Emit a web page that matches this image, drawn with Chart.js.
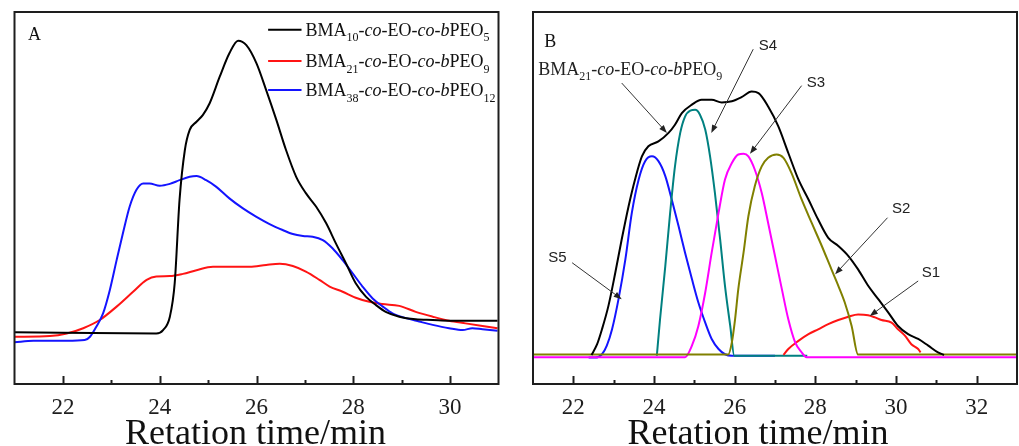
<!DOCTYPE html>
<html>
<head>
<meta charset="utf-8">
<script src="https://cdn.jsdelivr.net/npm/chart.js@4.4.1/dist/chart.umd.min.js"></script>
<style>
    body { margin: 0; background: #fff; }
    .panel { position: absolute; top: 0; height: 446px; }
</style>
</head>
<body>
<div class="panel" style="left:0;width:510px"><canvas id="chartA"></canvas></div>
<div class="panel" style="left:505px;width:514px"><canvas id="chartB"></canvas></div>
<script>
const ticksA = [22, 24, 26, 28, 30];
const ticksB = [22, 24, 26, 28, 30, 32];

// Panel A: GPC traces of the three copolymers
const bma10Time = [21.0, 23.93, 24.07, 24.21, 24.31, 24.41, 24.52, 24.62, 24.76, 24.89, 25.03, 25.24, 25.44, 25.62, 25.79, 26.0, 26.2, 26.41, 26.61, 26.82, 27.02, 27.23, 27.44, 27.64, 27.85, 28.05, 28.26, 28.47, 28.67, 28.95, 29.29, 29.64, 29.98, 30.98];
const bma10Signal = [13.9, 13.6, 14.5, 18.1, 27.1, 49.5, 62.9, 68.3, 70.5, 72.3, 75.4, 82.6, 88.9, 92.3, 91.1, 86.2, 79.0, 71.0, 62.9, 55.7, 51.3, 47.7, 43.2, 37.8, 32.4, 27.1, 23.5, 21.2, 19.4, 18.1, 17.4, 17.2, 17.0, 17.0];

const bma21Time = [21.0, 21.73, 22.08, 22.42, 22.76, 23.11, 23.45, 23.73, 23.93, 24.21, 24.48, 24.76, 25.1, 25.51, 25.86, 26.2, 26.48, 26.75, 27.02, 27.3, 27.51, 27.78, 28.05, 28.33, 28.6, 28.95, 29.29, 29.64, 29.98, 30.32, 30.67, 30.98];
const bma21Signal = [12.7, 12.9, 13.6, 15.0, 17.2, 20.8, 24.8, 28.0, 28.9, 29.0, 29.6, 30.6, 31.5, 31.5, 31.5, 32.0, 32.3, 31.7, 30.2, 28.0, 26.2, 24.8, 23.2, 22.1, 21.5, 21.0, 19.4, 18.1, 17.0, 16.3, 15.6, 15.0];

const bma38Time = [21.0, 21.39, 22.08, 22.45, 22.56, 22.69, 22.83, 22.97, 23.11, 23.24, 23.38, 23.52, 23.66, 23.79, 24.0, 24.21, 24.41, 24.62, 24.76, 24.96, 25.17, 25.44, 25.72, 25.99, 26.27, 26.54, 26.75, 26.96, 27.16, 27.37, 27.57, 27.78, 27.99, 28.19, 28.4, 28.61, 28.81, 29.09, 29.36, 29.64, 29.98, 30.26, 30.46, 30.67, 30.98];
const bma38Signal = [11.2, 11.6, 11.6, 11.8, 12.7, 15.4, 19.0, 25.3, 33.3, 40.5, 47.7, 52.2, 53.9, 53.9, 53.3, 53.8, 54.8, 55.7, 55.9, 54.8, 53.0, 49.9, 47.2, 45.0, 43.0, 41.4, 40.3, 39.8, 39.6, 38.7, 36.5, 33.3, 29.7, 26.2, 23.0, 20.8, 19.0, 17.7, 16.8, 15.9, 15.0, 14.5, 15.0, 14.7, 14.3];

// Panel B: BMA21 trace and its five fitted components
const envelopeTime = [22.45, 22.59, 22.71, 22.87, 23.04, 23.2, 23.37, 23.53, 23.7, 23.86, 24.11, 24.36, 24.52, 24.69, 24.94, 25.18, 25.43, 25.68, 25.93, 26.17, 26.42, 26.59, 26.83, 27.08, 27.33, 27.58, 27.83, 28.07, 28.32, 28.57, 28.82, 29.06, 29.31, 29.56, 29.81, 30.05, 30.3, 30.55, 30.8, 31.04, 31.19];
const envelopeSignal = [7.8, 10.7, 14.7, 21.0, 29.9, 38.9, 47.8, 55.0, 61.2, 63.9, 65.2, 67.5, 69.7, 72.8, 75.1, 76.4, 76.4, 75.7, 76.0, 77.1, 78.6, 78.2, 74.6, 69.3, 62.1, 55.0, 49.6, 44.2, 39.3, 37.1, 34.4, 30.8, 26.4, 22.8, 19.2, 15.6, 13.4, 12.1, 10.3, 8.5, 7.8];

const s5Time = [22.38, 22.54, 22.71, 22.83, 22.96, 23.12, 23.29, 23.45, 23.62, 23.78, 23.95, 24.11, 24.28, 24.44, 24.61, 24.77, 24.94, 25.1, 25.27, 25.43, 25.6, 25.76, 25.93, 27.0];
const s5Signal = [7.1, 7.1, 8.0, 10.3, 14.7, 22.8, 33.5, 46.0, 55.0, 59.9, 61.2, 59.9, 55.9, 49.6, 42.4, 35.3, 28.2, 21.9, 16.5, 12.1, 9.4, 8.0, 7.6, 7.6];

const s4Time = [24.07, 24.15, 24.28, 24.4, 24.52, 24.65, 24.77, 24.9, 25.02, 25.14, 25.27, 25.39, 25.51, 25.64, 25.76, 25.89, 25.99, 27.8];
const s4Signal = [7.6, 17.4, 31.7, 46.0, 58.5, 67.5, 71.9, 73.5, 73.7, 72.4, 68.4, 61.2, 51.4, 38.9, 26.4, 15.6, 7.6, 7.6];

const s3Time = [21.0, 24.77, 24.94, 25.1, 25.27, 25.43, 25.6, 25.76, 25.93, 26.09, 26.22, 26.34, 26.5, 26.67, 26.83, 27.0, 27.17, 27.33, 27.5, 27.66, 27.78, 33.0];
const s3Signal = [7.2, 7.2, 10.3, 15.6, 24.6, 35.3, 46.0, 55.0, 59.4, 61.7, 61.9, 61.2, 57.6, 51.4, 43.3, 34.4, 25.5, 17.4, 11.2, 8.5, 7.2, 7.2];

const s2Time = [21.0, 25.84, 25.93, 26.01, 26.09, 26.22, 26.34, 26.5, 26.67, 26.83, 27.04, 27.21, 27.41, 27.66, 27.91, 28.16, 28.4, 28.57, 28.73, 28.9, 29.06, 33.0];
const s2Signal = [7.9, 7.9, 11.2, 17.4, 25.5, 35.3, 45.1, 53.2, 58.5, 60.8, 61.7, 60.8, 56.7, 49.6, 43.3, 37.1, 30.8, 26.4, 21.9, 15.6, 7.9, 7.9];

const s1Time = [27.21, 27.33, 27.58, 27.83, 28.07, 28.32, 28.57, 28.82, 29.06, 29.31, 29.48, 29.64, 29.89, 30.05, 30.22, 30.38, 30.55, 30.61];
const s1Signal = [7.8, 9.4, 11.6, 13.4, 14.7, 16.1, 17.2, 18.1, 18.7, 18.5, 17.9, 17.2, 16.5, 14.7, 13.0, 10.7, 9.4, 8.5];

const tickFont = '"Liberation Serif", "Times New Roman", serif';
const labelFont = '"Liberation Sans", Arial, sans-serif';

function toPoints(xs, ys) {
    return xs.map((x, i) => ({ x: x, y: ys[i] }));
}

function trace(xs, ys, color) {
    return {
        data: toPoints(xs, ys),
        borderColor: color,
        borderWidth: 2,
        pointRadius: 0,
        showLine: true,
        fill: false,
        cubicInterpolationMode: "monotone",
    };
}

// BMA_a-co-EO-co-bPEO_b with subscripts and italics
function polymerName(a, b) {
    return [
        { t: "BMA" }, { t: a, sub: true }, { t: "-" }, { t: "co", it: true },
        { t: "-EO-" }, { t: "co", it: true }, { t: "-" }, { t: "b", it: true },
        { t: "PEO" }, { t: b, sub: true },
    ];
}

function drawRich(ctx, parts, x, y, size) {
    ctx.textBaseline = "alphabetic";
    ctx.textAlign = "left";
    for (const p of parts) {
        const fs = p.sub ? Math.round(size * 0.65) : size;
        ctx.font = (p.it ? "italic " : "") + fs + "px " + tickFont;
        ctx.fillText(p.t, x, y + (p.sub ? size * 0.3 : 0));
        x += ctx.measureText(p.t).width;
    }
}

function drawArrow(ctx, fx, fy, tx, ty) {
    const ang = Math.atan2(ty - fy, tx - fx);
    ctx.beginPath();
    ctx.moveTo(fx, fy);
    ctx.lineTo(tx - 6 * Math.cos(ang), ty - 6 * Math.sin(ang));
    ctx.stroke();
    ctx.beginPath();
    ctx.moveTo(tx, ty);
    ctx.lineTo(tx - 8 * Math.cos(ang) + 3 * Math.sin(ang), ty - 8 * Math.sin(ang) - 3 * Math.cos(ang));
    ctx.lineTo(tx - 8 * Math.cos(ang) - 3 * Math.sin(ang), ty - 8 * Math.sin(ang) + 3 * Math.cos(ang));
    ctx.closePath();
    ctx.fill();
}

// box around the plot area plus inward ticks on the bottom axis
const frame = {
    id: "frame",
    afterDraw(chart) {
        const { ctx, chartArea: a, scales: { x } } = chart;
        ctx.save();
        ctx.strokeStyle = "#1e1e1e";
        ctx.lineWidth = 2;
        ctx.strokeRect(a.left, a.top, a.right - a.left, a.bottom - a.top);
        for (let v = Math.ceil(x.min); v < x.max; v++) {
            if (v <= x.min) continue;
            const px = Math.round(x.getPixelForValue(v)) + 0.5;
            const len = v % 2 === 0 ? 8 : 4;
            ctx.beginPath();
            ctx.moveTo(px, a.bottom);
            ctx.lineTo(px, a.bottom - len);
            ctx.stroke();
        }
        ctx.restore();
    },
};

// panel letter, axis title, legend or labelled arrows, placed in data units
const notes = {
    id: "notes",
    afterDraw(chart, args, opts) {
        const { ctx, scales: { x, y } } = chart;
        ctx.save();
        ctx.fillStyle = "#111";
        ctx.textBaseline = "alphabetic";
        ctx.font = "18px " + tickFont;
        ctx.fillText(opts.letter.text, x.getPixelForValue(opts.letter.x), y.getPixelForValue(opts.letter.y));

        ctx.font = "36px " + tickFont;
        ctx.textAlign = "center";
        ctx.fillText(opts.axisTitle.text, x.getPixelForValue(opts.axisTitle.x), chart.height - 2);
        ctx.textAlign = "left";

        (opts.legend || []).forEach((item) => {
            const ly = y.getPixelForValue(item.y);
            ctx.strokeStyle = item.color;
            ctx.lineWidth = 2;
            ctx.beginPath();
            ctx.moveTo(x.getPixelForValue(item.x0), ly);
            ctx.lineTo(x.getPixelForValue(item.x1), ly);
            ctx.stroke();
            ctx.fillStyle = "#111";
            drawRich(ctx, item.name, x.getPixelForValue(item.x1) + 4, ly + 6, 18);
        });

        ctx.strokeStyle = "#333";
        ctx.fillStyle = "#222";
        ctx.lineWidth = 1;
        (opts.arrows || []).forEach((n) => {
            drawArrow(ctx, x.getPixelForValue(n.from[0]), y.getPixelForValue(n.from[1]),
                x.getPixelForValue(n.to[0]), y.getPixelForValue(n.to[1]));
            const tx = x.getPixelForValue(n.at[0]);
            const ty = y.getPixelForValue(n.at[1]);
            if (n.rich) {
                drawRich(ctx, n.rich, tx, ty, 18);
            } else {
                ctx.font = "15px " + labelFont;
                ctx.textBaseline = "alphabetic";
                ctx.fillText(n.text, tx, ty);
            }
        });
        ctx.restore();
    },
};

function baseOptions(xMin, xMax, tickValues, padding) {
    return {
        responsive: true,
        maintainAspectRatio: false,
        animation: false,
        layout: { padding: padding },
        plugins: {
            legend: { display: false },
            tooltip: { enabled: false },
        },
        scales: {
            x: {
                type: "linear",
                min: xMin,
                max: xMax,
                afterBuildTicks(scale) {
                    scale.ticks = tickValues.map((v) => ({ value: v }));
                },
                afterFit(scale) {
                    scale.height = 62;
                },
                ticks: {
                    padding: 10,
                    color: "#1e1e1e",
                    font: { family: tickFont, size: 23 },
                },
                grid: { display: false, drawTicks: false },
                border: { display: false },
            },
            y: { display: false, min: 0, max: 100 },
        },
    };
}

const optsA = baseOptions(21, 31, ticksA, { left: 14.5, right: 11.5, top: 12, bottom: 0 });
optsA.plugins.notes = {
    letter: { text: "A", x: 21.28, y: 92.5 },
    axisTitle: { text: "Retation time/min", x: 25.98 },
    legend: [
        { x0: 26.24, x1: 26.93, y: 95.2, color: "#000000", name: polymerName("10", "5") },
        { x0: 26.24, x1: 26.93, y: 86.8, color: "#ff1414", name: polymerName("21", "9") },
        { x0: 26.24, x1: 26.93, y: 79.0, color: "#1414ff", name: polymerName("38", "12") },
    ],
};

new Chart(document.getElementById("chartA"), {
    type: "scatter",
    data: {
        datasets: [
            trace(bma10Time, bma10Signal, "#000000"),
            trace(bma38Time, bma38Signal, "#1414ff"),
            trace(bma21Time, bma21Signal, "#ff1414"),
        ],
    },
    options: optsA,
    plugins: [frame, notes],
});

const optsB = baseOptions(21, 33, ticksB, { left: 28, right: 2, top: 12, bottom: 0 });
optsB.plugins.notes = {
    letter: { text: "B", x: 21.28, y: 90.6 },
    axisTitle: { text: "Retation time/min", x: 26.58 },
    arrows: [
        { rich: polymerName("21", "9"), at: [21.13, 83.1], from: [23.2, 80.9], to: [24.32, 67.5] },
        { text: "S4", at: [26.6, 89.8], from: [26.46, 90.0], to: [25.42, 67.5] },
        { text: "S3", at: [27.79, 79.9], from: [27.66, 80.2], to: [26.38, 61.9] },
        { text: "S2", at: [29.9, 46.1], from: [29.79, 44.7], to: [28.49, 29.5] },
        { text: "S1", at: [30.64, 28.7], from: [30.55, 27.7], to: [29.35, 18.3] },
        { text: "S5", at: [21.38, 32.7], from: [21.97, 32.6], to: [23.2, 22.8] },
    ],
};

new Chart(document.getElementById("chartB"), {
    type: "scatter",
    data: {
        datasets: [
            trace(envelopeTime, envelopeSignal, "#000000"),
            trace(s2Time, s2Signal, "#808000"),
            trace(s3Time, s3Signal, "#ff00ff"),
            trace(s1Time, s1Signal, "#ff1414"),
            trace(s4Time, s4Signal, "#008080"),
            trace(s5Time, s5Signal, "#1414ff"),
        ],
    },
    options: optsB,
    plugins: [frame, notes],
});
</script>
</body>
</html>
